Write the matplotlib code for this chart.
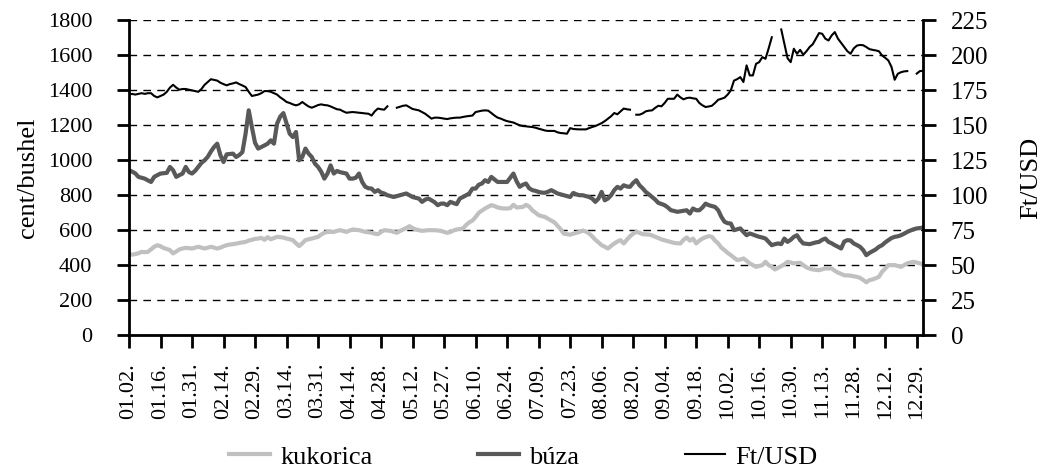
import numpy as np
import matplotlib
matplotlib.use("Agg")
import matplotlib.pyplot as plt

plt.rcParams['font.family'] = ['Liberation Serif', 'DejaVu Serif']

# ── data (daily trading days of 2008) ─────────────────────────────────────────
tick_labels = ['01.02.', '01.16.', '01.31.', '02.14.', '02.29.', '03.14.',
               '03.31.', '04.14.', '04.28.', '05.12.', '05.27.', '06.10.',
               '06.24.', '07.09.', '07.23.', '08.06.', '08.20.', '09.04.',
               '09.18.', '10.02.', '10.16.', '10.30.', '11.13.', '11.28.',
               '12.12.', '12.29.']

# kukorica (corn), cent/bushel
corn = [
    463, 460, 463, 468, 476, 474, 476, 490, 505, 514,
    508, 498, 492, 486, 467, 478, 490, 495, 499, 497,
    495, 500, 505, 500, 495, 500, 505, 500, 495, 500,
    508, 514, 518, 520, 523, 527, 530, 533, 540, 545,
    550, 552, 556, 545, 560, 548, 555, 562, 560, 558,
    552, 548, 543, 525, 509, 525, 543, 548, 552, 557,
    562, 575, 585, 590, 590, 590, 596, 600, 595, 590,
    598, 604, 602, 600, 595, 590, 588, 585, 580, 577,
    590, 600, 598, 596, 590, 585, 595, 604, 612, 623,
    612, 604, 600, 596, 598, 600, 600, 600, 598, 596,
    590, 585, 590, 598, 604, 606, 610, 630, 645, 655,
    675, 699, 712, 724, 734, 743, 738, 730, 726, 724,
    724, 726, 745, 730, 731, 733, 745, 735, 714, 700,
    686, 680, 676, 665, 655, 645, 625, 605, 580, 577,
    574, 580, 585, 590, 598, 592, 581, 565, 545, 530,
    514, 505, 495, 510, 524, 535, 543, 524, 545, 565,
    580, 590, 585, 577, 576, 575, 570, 562, 555, 547,
    542, 537, 532, 527, 525, 524, 545, 558, 540, 552,
    524, 540, 552, 560, 566, 562, 540, 524, 500, 486,
    470, 457, 443, 429, 432, 438, 425, 410, 400, 390,
    395, 400, 419, 400, 390, 375, 385, 394, 405, 419,
    415, 410, 412, 413, 400, 387, 380, 375, 373, 371,
    376, 381, 381, 381, 368, 357, 350, 342, 341, 340,
    336, 333, 327, 315, 302, 314, 318, 325, 333, 362,
    380, 400, 400, 400, 395, 390, 400, 410, 415, 419,
    415, 410, 405,
]

# búza (wheat), cent/bushel
wheat = [
    943, 935, 925, 905, 900, 895, 885, 876, 905, 915,
    924, 926, 928, 962, 943, 905, 915, 924, 962, 933,
    924, 940, 962, 985, 1000, 1020, 1050, 1076, 1095, 1030,
    990, 1034, 1036, 1038, 1019, 1030, 1047, 1152, 1286, 1190,
    1100, 1067, 1076, 1085, 1095, 1114, 1095, 1210, 1250, 1270,
    1210, 1152, 1133, 1162, 1000, 1019, 1067, 1038, 1019, 981,
    962, 935, 895, 924, 971, 924, 939, 932, 928, 924,
    895, 895, 900, 924, 876, 848, 840, 838, 819, 829,
    815, 810, 800, 795, 790, 795, 800, 805, 810, 800,
    790, 785, 781, 762, 775, 781, 771, 760, 743, 752,
    752, 743, 762, 755, 749, 781, 790, 800, 810, 838,
    838, 860, 867, 886, 876, 905, 890, 876, 876, 876,
    876, 900, 924, 880, 848, 860, 867, 840, 829, 825,
    819, 815, 814, 820, 829, 820, 810, 805, 800, 795,
    790, 813, 805, 800, 800, 795, 790, 781, 762, 781,
    819, 771, 781, 800, 829, 848, 838, 857, 850, 848,
    870, 886, 857, 840, 819, 805, 790, 775, 756, 750,
    743, 730, 714, 710, 705, 708, 711, 714, 695, 724,
    714, 714, 730, 752, 743, 738, 733, 714, 676, 648,
    640, 638, 600, 605, 610, 590, 571, 581, 575, 568,
    562, 558, 552, 533, 514, 520, 524, 520, 552, 533,
    545, 562, 571, 543, 524, 522, 520, 525, 530, 533,
    545, 552, 533, 525, 514, 505, 495, 535, 543, 541,
    524, 515, 505, 486, 457, 470, 480, 490, 505, 514,
    530, 543, 555, 562, 565, 571, 580, 590, 598, 605,
    610, 612, 615,
]

nan = np.nan
# Ft/USD exchange rate (gaps = Hungarian holidays)
ftusd = [
    172, 172.5, 172, 172.5, 173, 172.5, 173, 173, 171, 170,
    171, 172, 174, 177, 179, 177, 175.5, 176, 176, 175.5,
    175, 174.5, 174, 176, 179, 181, 183, 182.5, 182, 180.5,
    179.5, 178.6, 179.5, 180, 180.7, 179.5, 178.5, 177.4, 174, 171,
    171.5, 172, 173, 174.5, 174.5, 174, 173, 172, 170, 168.5,
    166.7, 166, 165, 164.3, 165, 166.7, 165, 163.5, 162.6, 163.5,
    164.5, 165, 164.5, 164.3, 163.5, 162.5, 161.5, 161.2, 160, 159,
    159.3, 159.5, 159.3, 159, 158.8, 158.5, 158.3, 157, 160, 162,
    161.5, 161.2, 163.6, nan, nan, 162.6, 163.3, 164, 164.3, 163,
    161.7, 161.2, 160.7, 159.5, 158.3, 156.5, 154.8, 155.5, 155.5, 155.2,
    154.8, 154.5, 155, 155.3, 155.5, 155.5, 156, 156.4, 156.7, 157,
    159.5, 160, 160.5, 160.7, 160.5, 158.8, 157, 155.5, 154.8, 153.8,
    153, 152.5, 152, 151, 150, 149.5, 149.3, 149, 148.8, 148.3,
    147.6, 147, 146.3, 146, 146, 146, 145, 144.5, 144.3, 144,
    148, 147.4, 147.2, 147.1, 147.1, 147.1, 148, 148.8, 149.5, 150.5,
    151.6, 153, 154.8, 156.5, 158.8, 157.9, 160, 162, 161.5, 161.2,
    nan, 157.6, 157.6, 158.5, 160, 160.5, 160.7, 162.5, 164, 163.6,
    166, 169, 169, 169, 172, 170, 168.6, 169.5, 169.8, 169.3,
    169, 166, 164.3, 163.1, 163.5, 164, 166, 168.3, 169, 169.8,
    172, 175, 182, 183, 184.5, 181, 192.9, 185.7, 185.7, 194,
    195.2, 198.8, 197.6, 205, 213, nan, nan, 218.6, 208.3, 198,
    195.2, 204.8, 201.2, 204, 200.5, 203, 206, 208, 212, 216,
    215.5, 212, 210.7, 214.3, 216.7, 212, 209, 206, 203, 201.2,
    205, 207, 207.5, 207.3, 206, 204.5, 204, 203.6, 203, 200,
    198.3, 196.4, 191.7, 182.6, 186.9, 188, 188.6, 188.8, nan, nan,
    187, 188.8, 189,
]

x = np.arange(len(corn))

# ── figure ────────────────────────────────────────────────────────────────────
fig = plt.figure(figsize=(10.47, 4.70), dpi=100)
ax = fig.add_axes([0.1232, 0.2872, 0.7584, 0.6692])
ax2 = ax.twinx()

fs_tick = 16
fs_title = 19
grid_style = (0, (5.5, 4.5))

ax.plot(x, corn, color='#c0c0c0', lw=3.0, label='kukorica', solid_joinstyle='round')
ax.plot(x, wheat, color='#595959', lw=3.0, label='búza', solid_joinstyle='round')
ax2.plot(x, ftusd, color='black', lw=1.5, label='Ft/USD')

ax.set_xlim(0, len(corn) - 1)
ax.set_ylim(0, 1800)
ax.set_yticks(np.arange(0, 1801, 200))
ax2.set_ylim(0, 225)
ax2.set_yticks(np.arange(0, 226, 25))

ax.set_xticks(np.arange(0, 251, 10))
ax.set_xticklabels(tick_labels, rotation=90, fontsize=fs_tick)

ax.yaxis.grid(True, color='black', lw=1.0, linestyle=grid_style)
ax.set_axisbelow(True)

for a in (ax, ax2):
    a.spines['top'].set_visible(False)
    for s in a.spines.values():
        s.set_linewidth(2.0)
ax.spines['right'].set_visible(False)
ax2.spines['left'].set_visible(False)
ax2.spines['bottom'].set_visible(False)

ax.tick_params(axis='y', direction='out', length=9, width=2, pad=17.5, labelsize=fs_tick)
ax.tick_params(axis='x', direction='out', length=9, width=2, pad=11, labelsize=fs_tick)
ax2.tick_params(axis='y', direction='out', length=9, width=2, pad=11, labelsize=18)

ax.set_ylabel('cent/bushel', fontsize=fs_title)
ax.yaxis.set_label_coords(-0.1134, 0.5)
ax2.set_ylabel('Ft/USD', fontsize=fs_title)
ax2.yaxis.set_label_coords(1.1228, 0.5)

h1, l1 = ax.get_legend_handles_labels()
h2, l2 = ax2.get_legend_handles_labels()
fig.legend(h1 + h2, l1 + l2, loc='center', bbox_to_anchor=(0.5, 0.028),
           ncol=3, frameon=False, fontsize=fs_title, handlelength=1.55,
           handletextpad=0.38, columnspacing=4.0)

fig.savefig('out.png', dpi=100)
